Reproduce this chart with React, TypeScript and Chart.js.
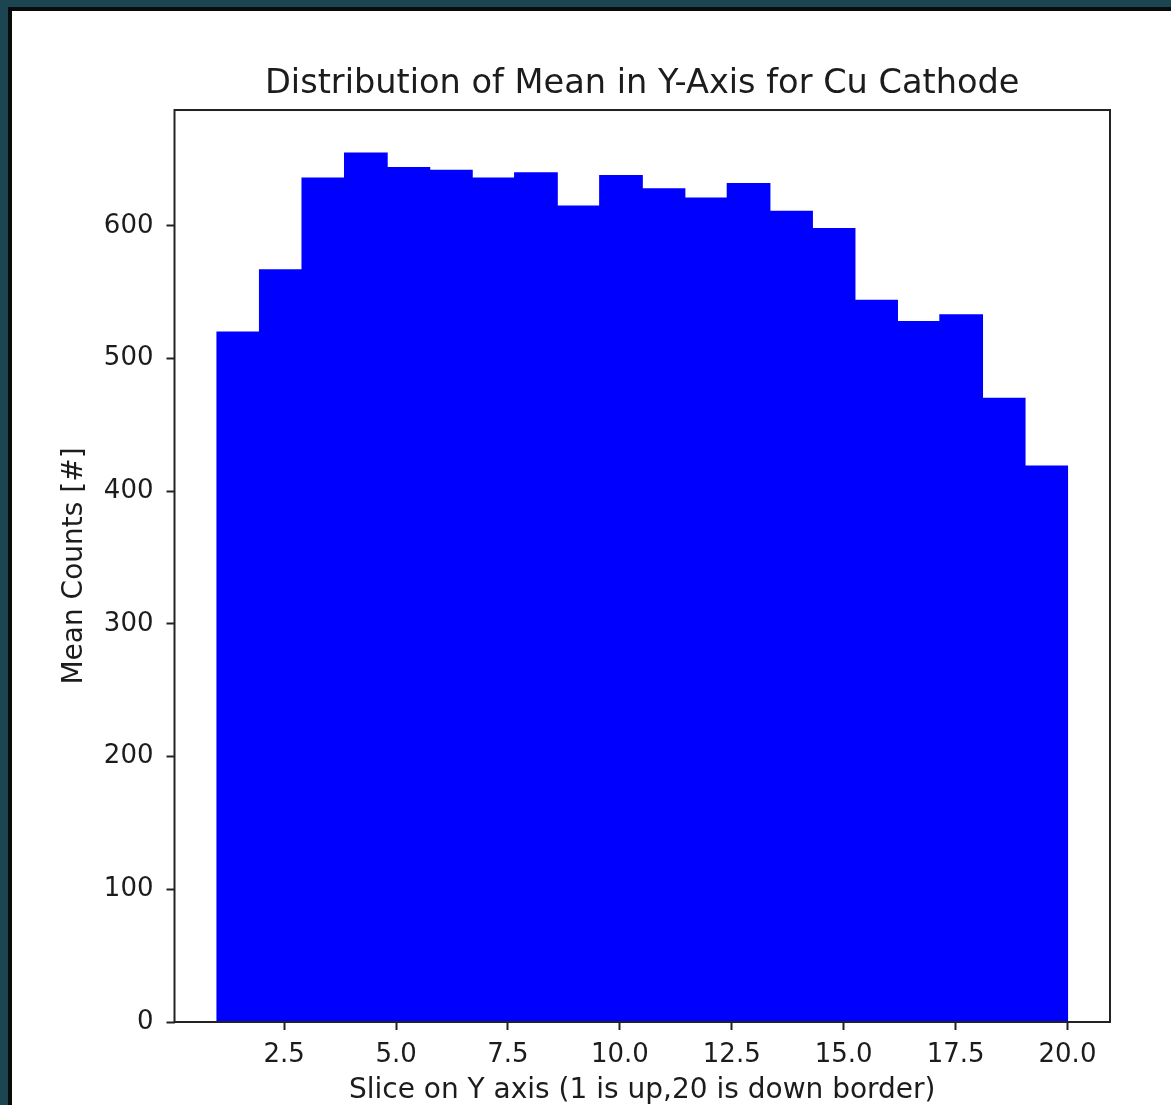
import React, { useEffect, useRef } from "react";
import { Chart, registerables } from "chart.js";

Chart.register(...registerables);

// Histogram of 20 slices (bins from 1 to 20)
const binCenters = [
  1.475, 2.425, 3.375, 4.325, 5.275, 6.225, 7.175, 8.125, 9.075, 10.025,
  10.975, 11.925, 12.875, 13.825, 14.775, 15.725, 16.675, 17.625, 18.575, 19.525,
];
const meanCounts = [
  520, 567, 636, 655, 644, 642, 636, 640, 615, 638,
  628, 621, 632, 611, 598, 544, 528, 533, 470, 419,
];
const xTicks = [2.5, 5.0, 7.5, 10.0, 12.5, 15.0, 17.5, 20.0];
const yTicks = [0, 100, 200, 300, 400, 500, 600];

const titleText = "Distribution of Mean in Y-Axis for Cu Cathode";
const xLabel = "Slice on Y axis (1 is up,20 is down border)";
const yLabel = "Mean Counts [#]";

const FONT = "'DejaVu Sans', sans-serif";
const TEXT = "#1c1c1c";
const AXIS = "#222222";

const framePlugin = {
  id: "frame",
  afterDraw(chart: any) {
    const { ctx, chartArea } = chart;
    ctx.save();
    ctx.strokeStyle = AXIS;
    ctx.lineWidth = 2;
    ctx.strokeRect(chartArea.left, chartArea.top, chartArea.right - chartArea.left, chartArea.bottom - chartArea.top);
    ctx.restore();
  },
};

export default function App() {
  const ref = useRef<HTMLCanvasElement | null>(null);

  useEffect(() => {
    if (!ref.current) return;
    const chart = new Chart(ref.current, {
      type: "bar",
      data: {
        datasets: [
          {
            data: binCenters.map((x, i) => ({ x, y: meanCounts[i] })),
            backgroundColor: "#0000ff",
            borderWidth: 0,
            inflateAmount: 0.6,
            barPercentage: 1,
            categoryPercentage: 1,
          },
        ],
      },
      plugins: [framePlugin],
      options: {
        animation: false,
        responsive: false,
        layout: { padding: { left: 0, right: 61, top: 0, bottom: 0 } },
        plugins: {
          legend: { display: false },
          tooltip: { enabled: false },
          title: {
            display: true,
            text: titleText,
            fullSize: false,
            color: TEXT,
            font: { family: FONT, size: 33.6, weight: "normal", lineHeight: 1.2 },
            padding: { top: 64, bottom: 5.7 },
          },
        },
        scales: {
          x: {
            type: "linear",
            min: 0.05,
            max: 20.95,
            offset: false,
            grid: { display: true, drawOnChartArea: false, drawTicks: true, tickLength: 8, tickWidth: 2, tickColor: AXIS, offset: false },
            border: { display: false },
            afterBuildTicks: (scale: any) => {
              scale.ticks = xTicks.map((value) => ({ value }));
            },
            afterFit: (scale: any) => {
              scale.height = 83;
            },
            ticks: {
              autoSkip: false,
              maxRotation: 0,
              padding: 10,
              color: TEXT,
              font: { family: FONT, size: 26 },
              callback: (v: any) => Number(v).toFixed(1),
            },
            title: {
              display: true,
              text: xLabel,
              color: TEXT,
              font: { family: FONT, size: 28, lineHeight: 1.2 },
              padding: { top: 0, bottom: -3 },
            },
          },
          y: {
            type: "linear",
            min: 0,
            max: 687.4,
            grid: { display: true, drawOnChartArea: false, drawTicks: true, tickLength: 8, tickWidth: 2, tickColor: AXIS },
            border: { display: false },
            afterBuildTicks: (scale: any) => {
              scale.ticks = yTicks.map((value) => ({ value }));
            },
            afterFit: (scale: any) => {
              scale.width = 174.5;
            },
            ticks: {
              padding: 13,
              color: TEXT,
              font: { family: FONT, size: 26 },
              callback: (v: any) => String(Math.round(Number(v))),
            },
            title: {
              display: true,
              text: yLabel,
              color: TEXT,
              font: { family: FONT, size: 28, lineHeight: 1.2 },
              padding: { top: 58, bottom: 0 },
            },
          },
        },
      },
    } as any);
    return () => chart.destroy();
  }, []);

  return (
    <div style={{ position: "fixed", left: 0, top: 0, width: 1171, height: 1105, overflow: "hidden", background: "#1a4551" }}>
      <div
        style={{
          position: "absolute",
          left: 8,
          top: 7,
          width: 1200,
          height: 1200,
          background: "#ffffff",
          borderLeft: "4px solid #0a0a0a",
          borderTop: "4px solid #0a0a0a",
        }}
      />
      <canvas ref={ref} width={1171} height={1105} style={{ position: "absolute", left: 0, top: 0, width: 1171, height: 1105 }} />
    </div>
  );
}
